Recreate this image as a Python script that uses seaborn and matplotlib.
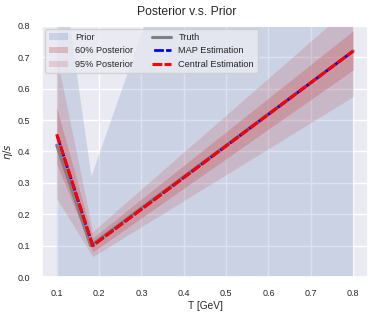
import matplotlib
matplotlib.use('Agg')
import matplotlib.pyplot as plt
import seaborn as sns

# temperature nodes [GeV]
T_prior = [0.1, 0.182, 0.8]
prior_lo = [0.0, 0.0, 0.0]
prior_hi = [1.1, 0.32, 2.7]

T_post = [0.1, 0.185, 0.8]
post60_lo = [0.36, 0.08, 0.66]
post60_hi = [0.54, 0.125, 0.785]
post95_lo = [0.25, 0.065, 0.575]
post95_hi = [0.70, 0.145, 0.87]

T_truth = [0.1, 0.18, 0.8]
truth = [0.42, 0.10, 0.72]

map_est = [0.455, 0.10, 0.72]
central_est = [0.455, 0.10, 0.72]

sns.set_theme(style='darkgrid')
plt.rcParams['font.family'] = ['Liberation Sans', 'DejaVu Sans']

fig, ax = plt.subplots(figsize=(3.74, 3.13), dpi=100)
fig.subplots_adjust(left=0.112, right=0.984, top=0.917, bottom=0.115)

ax.fill_between(T_prior, prior_lo, prior_hi, color='b', alpha=0.2, lw=0, label='Prior')
ax.fill_between(T_post, post60_lo, post60_hi, color='r', alpha=0.3, lw=0, label='60% Posterior')
ax.fill_between(T_post, post95_lo, post95_hi, color='r', alpha=0.2, lw=0, label='95% Posterior')

sns.lineplot(x=T_truth, y=truth, color='gray', lw=2.2, label='Truth', ax=ax)
sns.lineplot(x=T_post, y=map_est, color='blue', lw=2, label='MAP Estimation', ax=ax,
             linestyle=(3.7, (3.5, 0.8)))
sns.lineplot(x=T_post, y=central_est, color='red', lw=2.2, label='Central Estimation', ax=ax,
             linestyle=(0, (3.2, 0.75)))

ax.set_ylim(0, 0.8)
ax.set_xticks([0.1, 0.2, 0.3, 0.4, 0.5, 0.6, 0.7, 0.8])
ax.tick_params(labelsize=6.5, pad=2.5)
ax.set_xlabel('T [GeV]', fontsize=7.3, labelpad=2)
ax.set_ylabel(r'$\eta/s$', fontsize=7.3, labelpad=2)
fig.suptitle('Posterior v.s. Prior', fontsize=8.7, y=0.962, va='center')
ax.legend(loc='upper left', ncol=2, fontsize=6.6, handlelength=2.1, columnspacing=2.0,
          borderaxespad=0.35)

fig.savefig('out.png', dpi=100)
